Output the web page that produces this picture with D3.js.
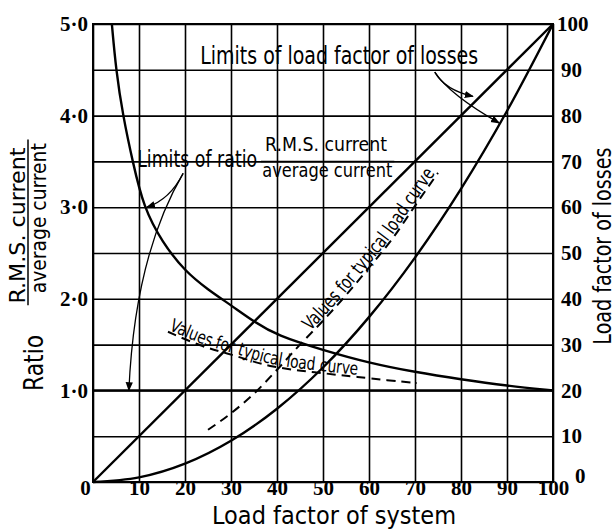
<!DOCTYPE html>
<html>
<head>
<meta charset="utf-8">
<script src="https://cdn.jsdelivr.net/npm/d3@7"></script>
<style>
  body { margin: 0; background: #fff; }
  .hand { font-family: "DejaVu Sans Condensed", "Liberation Sans Narrow", "DejaVu Sans", sans-serif; fill: #000; }
  .num { font-family: "Liberation Serif", "DejaVu Serif", serif; font-weight: bold; fill: #000; }
</style>
</head>
<body>
<svg width="616" height="529"></svg>
<script>
// axes ticks
const lfTicks = [0, 10, 20, 30, 40, 50, 60, 70, 80, 90, 100];
const ratioTicks = [1, 2, 3, 4, 5];
const lossTicks = [0, 10, 20, 30, 40, 50, 60, 70, 80, 90, 100];

// upper limit of ratio R.M.S./average current (left scale)
const ratioLimitLF = [4.1, 5, 6.5, 8.7, 11, 15, 20, 25, 30, 35, 40, 50, 60, 70, 80, 90, 100];
const ratioLimit = [5.0, 4.5, 4.0, 3.48, 3.0, 2.62, 2.3, 2.1, 1.93, 1.75, 1.6, 1.44, 1.3, 1.2, 1.12, 1.05, 1.0];

// lower limit of ratio
const ratioLowLF = [0, 100];
const ratioLow = [1.0, 1.0];

// typical load curve, ratio (dashed)
const ratioTypLF = [16.3, 24, 29, 35, 39, 44, 48, 53, 57, 64, 70.4];
const ratioTyp = [1.64, 1.47, 1.41, 1.31, 1.26, 1.22, 1.2, 1.17, 1.15, 1.11, 1.08];

// limits of load factor of losses (right scale)
const lossUpperLF = [0, 100];
const lossUpper = [0, 100];
const lossLowerLF = [0, 10, 20, 30, 40, 50, 60, 70, 80, 90, 100];
const lossLower = [0, 1, 4, 9, 16, 25, 36, 49, 64, 81, 100];

// typical load curve, losses (dashed)
const lossTypLF = [25, 30, 35, 40, 45, 50, 55, 60, 65, 70, 75];
const lossTyp = [11.4, 15, 19.3, 24.5, 30, 35.2, 40.8, 46.8, 53, 60.3, 67.5];

var svg = d3.select("svg");

var x = d3.scaleLinear().domain([0, 100]).range([93, 553]);
var yL = d3.scaleLinear().domain([0, 5]).range([482, 24]);
var yR = d3.scaleLinear().domain([0, 100]).range([482, 24]);

// arrow head
svg.append("defs").append("marker")
    .attr("id", "arr")
    .attr("viewBox", "0 0 10 10")
    .attr("refX", 9).attr("refY", 5)
    .attr("markerWidth", 7).attr("markerHeight", 7)
    .attr("orient", "auto")
    .append("path")
    .attr("d", "M0,1 L10,5 L0,9 z")
    .attr("fill", "#000");

// grid + labels through axes
var bottom = svg.append("g")
    .attr("transform", `translate(0,${yR(0)})`)
    .call(d3.axisBottom(x).tickValues(lfTicks).tickSize(-(yR(0) - yR(100))).tickSizeOuter(0).tickPadding(0));
bottom.selectAll("text").attr("class", "num").attr("font-size", 21).attr("y", -2)
    .attr("dx", d => d === 0 ? -8 : 0);

var right = svg.append("g")
    .attr("transform", `translate(${x(100)},0)`)
    .call(d3.axisRight(yR).tickValues(lossTicks).tickSize(-(x(100) - x(0))).tickSizeOuter(0).tickPadding(8));
right.selectAll("text").attr("class", "num").attr("font-size", 21)
    .attr("dx", d => d === 0 ? 14 : (d === 100 ? -4 : 0))
    .attr("dy", d => d === 0 ? "0" : "0.32em");

var left = svg.append("g")
    .attr("transform", `translate(${x(0)},0)`)
    .call(d3.axisLeft(yL).tickValues(ratioTicks).tickSize(0).tickPadding(5).tickFormat(d => d + "·0"));
left.selectAll("text").attr("class", "num").attr("font-size", 21);

svg.selectAll(".domain").remove();
svg.selectAll(".tick line").attr("stroke", "#000").attr("stroke-width", 1.6);
svg.selectAll(".tick text").attr("font-family", null).attr("fill", "#000");
svg.selectAll("g").attr("font-family", null).attr("font-size", null);

svg.append("rect")
    .attr("x", x(0)).attr("y", yR(100))
    .attr("width", x(100) - x(0)).attr("height", yR(0) - yR(100))
    .attr("fill", "none").attr("stroke", "#000").attr("stroke-width", 2);

// curves
function drawLine(xs, ys, yScale, dashed, curve) {
    var pts = xs.map((v, i) => [x(v), yScale(ys[i])]);
    return svg.append("path")
        .attr("d", d3.line().curve(curve || d3.curveMonotoneX)(pts))
        .attr("fill", "none")
        .attr("stroke", "#000")
        .attr("stroke-width", dashed ? 2 : 2.4)
        .attr("stroke-dasharray", dashed ? "9,6" : null);
}

drawLine(ratioLimitLF, ratioLimit, yL, false, d3.curveBasis);
drawLine(ratioLowLF, ratioLow, yL, false);
drawLine(lossUpperLF, lossUpper, yR, false);
drawLine(lossLowerLF, lossLower, yR, false);
var ratioTypPath = drawLine(ratioTypLF, ratioTyp, yL, true, d3.curveBasis).attr("id", "ratioTyp");
var lossTypPath = drawLine(lossTypLF, lossTyp, yR, true).attr("id", "lossTyp");

// text along typical curves
svg.append("text").attr("class", "hand").attr("font-size", 18).attr("dy", -2)
    .append("textPath").attr("href", "#ratioTyp").attr("startOffset", 0)
    .attr("textLength", 196).attr("lengthAdjust", "spacingAndGlyphs")
    .text("Values for typical load curve");

var lossLen = lossTypPath.node().getTotalLength();
svg.append("text").attr("class", "hand").attr("font-size", 19).attr("dy", -2)
    .append("textPath").attr("href", "#lossTyp").attr("startOffset", lossLen - 204)
    .attr("textLength", 202).attr("lengthAdjust", "spacingAndGlyphs")
    .text("Values for typical load curve");

// annotations
function label(txt, px, py, size, len, rot) {
    return svg.append("text").attr("class", "hand")
        .attr("transform", `translate(${px},${py})` + (rot ? ` rotate(${rot})` : ""))
        .attr("text-anchor", rot ? "middle" : "start")
        .attr("font-size", size)
        .attr("textLength", len).attr("lengthAdjust", "spacingAndGlyphs")
        .text(txt);
}

label("Limits of load factor of losses", x(23.3), yR(91.3), 24, 278);
label("Limits of ratio", x(9.6), yL(3.44), 23, 120);
label("R.M.S. current", x(37.4), yL(3.61), 19, 122);
label("average current", x(36.8), yL(3.33), 19, 130);
svg.append("line")
    .attr("x1", x(36.5)).attr("x2", x(65.5))
    .attr("y1", yL(3.5)).attr("y2", yL(3.5))
    .attr("stroke", "#000").attr("stroke-width", 1.5);

// axis titles
label("Load factor of system", x(52.4), 524, 25, 244, 0).attr("text-anchor", "middle");
label("Load factor of losses", 611, yR(51.5), 24, 197, -90);
label("Ratio", 43, yL(1.3), 26, 56, -90);
label("R.M.S. current", 25, yL(2.8), 21, 156, -90);
label("average current", 46, yL(2.88), 21, 150, -90);
svg.append("line")
    .attr("x1", 28).attr("x2", 28)
    .attr("y1", yL(3.74)).attr("y2", yL(1.93))
    .attr("stroke", "#000").attr("stroke-width", 1.5);

// arrows: [start, control, end] in (load factor, value) pairs
const lossArrows = [
    [[74.3, 89.5], [76.5, 85.6], [82.6, 84.2]],
    [[74.3, 89.5], [77.6, 84.5], [88.3, 78.4]]
];
const ratioArrows = [
    [[19.6, 3.37], [16.7, 3.08], [11.7, 3.0]],
    [[19.6, 3.37], [9.1, 2.47], [7.8, 1.0]]
];
function arrow(p, yScale) {
    svg.append("path")
        .attr("d", `M${x(p[0][0])},${yScale(p[0][1])} Q${x(p[1][0])},${yScale(p[1][1])} ${x(p[2][0])},${yScale(p[2][1])}`)
        .attr("fill", "none").attr("stroke", "#000").attr("stroke-width", 1.3)
        .attr("marker-end", "url(#arr)");
}
lossArrows.forEach(a => arrow(a, yR));
ratioArrows.forEach(a => arrow(a, yL));
</script>
</body>
</html>
